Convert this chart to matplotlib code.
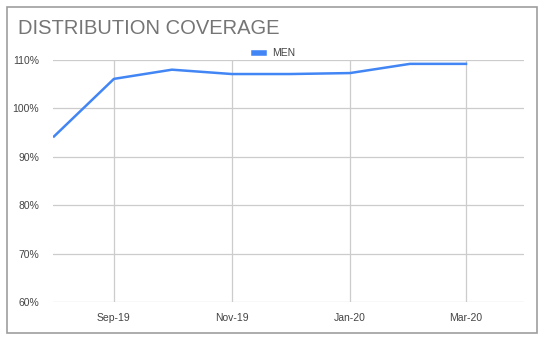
import pandas as pd
import matplotlib.pyplot as plt
import matplotlib.dates as mdates
from matplotlib.patches import Rectangle
from matplotlib.ticker import FuncFormatter

months = ['2019-08-01', '2019-09-01', '2019-10-01', '2019-11-01',
          '2019-12-01', '2020-01-01', '2020-02-01', '2020-03-01']
men = [94.2, 106.1, 108.0, 107.1, 107.1, 107.3, 109.2, 109.2]
tick_months = ['2019-09-01', '2019-11-01', '2020-01-01', '2020-03-01']

plt.rcParams['font.family'] = ['Liberation Sans', 'DejaVu Sans']

dates = pd.to_datetime(months)

fig = plt.figure(figsize=(5.45, 3.38), dpi=100)
ax = fig.add_axes([53 / 545, 1 - 302 / 338, (524 - 53) / 545, (302 - 60) / 338])

# outer frame
fig.patches.append(Rectangle((7 / 545, 5 / 338), 530 / 545, 326 / 338,
                             transform=fig.transFigure, fill=False,
                             edgecolor='#9e9e9e', linewidth=1.2))

ax.plot(dates, men, color='#4285F4', linewidth=1.8, label='MEN',
        solid_joinstyle='round')

ax.set_ylim(60, 110)
ax.set_yticks([60, 70, 80, 90, 100, 110])
ax.yaxis.set_major_formatter(FuncFormatter(lambda v, p: f'{v:.0f}%'))
ax.set_xlim(pd.Timestamp('2019-07-31 12:00'), pd.Timestamp('2020-03-31'))
ax.set_xticks(pd.to_datetime(tick_months))
ax.xaxis.set_major_formatter(mdates.DateFormatter('%b-%y'))

ax.grid(True, color='#cccccc', linewidth=0.9)
ax.set_axisbelow(True)
for s in ax.spines.values():
    s.set_visible(False)
ax.tick_params(length=0, labelsize=7.5, labelcolor='#444444')
ax.tick_params(axis='y', pad=10)
ax.tick_params(axis='x', pad=8)

fig.text(18 / 545, 1 - 29 / 338, 'DISTRIBUTION COVERAGE', fontsize=14.5,
         color='#757575', va='center', ha='left')

ax.legend(loc='lower center', bbox_to_anchor=(0.47, 0.99), frameon=False,
          fontsize=7.5, handlelength=1.0, handletextpad=0.7,
          labelcolor='#444444', borderaxespad=0)
for line in ax.get_legend().get_lines():
    line.set_linewidth(4)

fig.savefig('out.png', dpi=100)
